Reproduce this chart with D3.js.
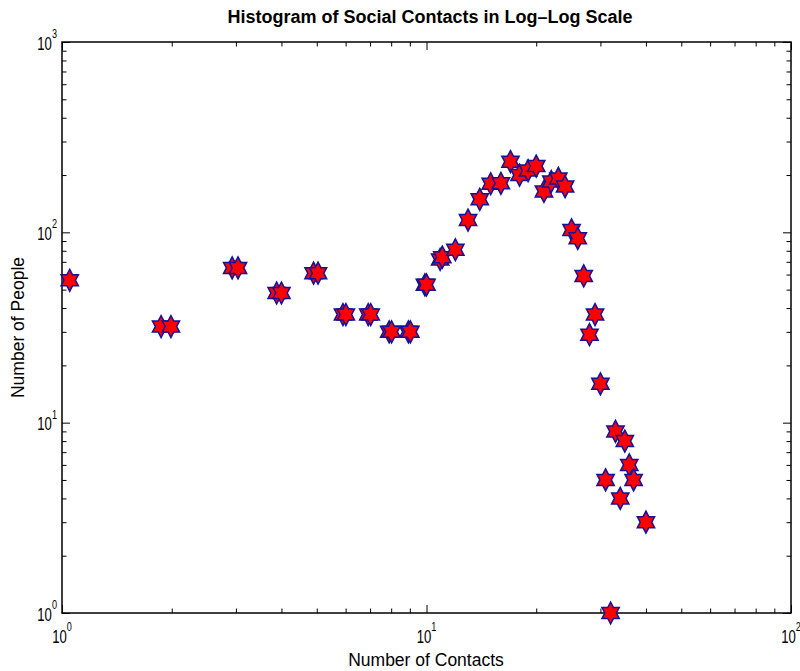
<!DOCTYPE html>
<html>
<head>
<meta charset="utf-8">
<script src="https://cdn.jsdelivr.net/npm/d3@7"></script>
<style>
  body { margin: 0; background: #fff; }
  text { font-family: "Liberation Sans", Arial, Helvetica, sans-serif; fill: #000; }
</style>
</head>
<body>
<script>
// number of contacts (x) and number of people (y)
const contacts = [1.05, 1.87, 1.99, 2.93, 3.04, 3.88, 4.0, 4.9, 5.04, 5.9, 6.01, 6.92, 7.03,
                  7.9, 8.02, 8.92, 9.03, 9.9, 10.0, 10.9, 11.05, 12, 13, 14, 15, 16, 17, 18,
                  19, 20, 21, 22, 23, 24, 25, 26, 27, 28, 29, 30, 31, 32, 33, 34, 35, 36, 37, 40];
const people = [56, 32, 32, 65, 65, 48, 48, 61, 61, 37, 37, 37, 37,
                30, 30, 30, 30, 53, 53, 72, 74, 81, 116, 149, 180, 181, 235, 200,
                211, 223, 164, 185, 192, 174, 103, 93, 59, 29, 37, 16, 5, 1, 9, 4, 8, 6, 5, 3];

const xDecades = [0, 1, 2];
const yDecades = [0, 1, 2, 3];

const titleText = 'Histogram of Social Contacts in Log\u2013Log Scale';
const xLabel = 'Number of Contacts';
const yLabel = 'Number of People';

window.onload = () => {
    const width = 800;
    const height = 671;
    const plot = { left: 62, right: 791, top: 42, bottom: 613 };

    const svg = d3.select('body')
                  .append('svg')
                  .attr('width', width)
                  .attr('height', height);

    const x = d3.scaleLog().domain([1, 100]).range([plot.left, plot.right]);
    const y = d3.scaleLog().domain([1, 1000]).range([plot.bottom, plot.top]);

    const minorX = d3.range(1, 3).flatMap(e => d3.range(2, 10).map(m => m * Math.pow(10, e - 1)));
    const minorY = d3.range(1, 4).flatMap(e => d3.range(2, 10).map(m => m * Math.pow(10, e - 1)));
    const majorX = xDecades.map(e => Math.pow(10, e));
    const majorY = yDecades.map(e => Math.pow(10, e));

    const pw = plot.right - plot.left;
    const ph = plot.bottom - plot.top;

    // ticks, pointing inward on all four sides
    const tickSets = [
        [d3.axisBottom(x), `translate(0,${plot.bottom})`, minorX, majorX, -1],
        [d3.axisTop(x), `translate(0,${plot.top})`, minorX, majorX, -1],
        [d3.axisLeft(y), `translate(${plot.left},0)`, minorY, majorY, -1],
        [d3.axisRight(y), `translate(${plot.right},0)`, minorY, majorY, -1]
    ];
    tickSets.forEach(([axis, tr, minor, major]) => {
        [[minor, 4.5], [major, 8]].forEach(([vals, len]) => {
            const g = svg.append('g')
                .attr('transform', tr)
                .call(axis.tickValues(vals).tickSize(-len).tickFormat(''));
            g.select('.domain').remove();
            g.selectAll('line').attr('stroke', '#000').attr('stroke-width', 1);
        });
    });

    // box
    svg.append('rect')
        .attr('x', plot.left)
        .attr('y', plot.top)
        .attr('width', pw)
        .attr('height', ph)
        .attr('fill', 'none')
        .attr('stroke', '#000')
        .attr('stroke-width', 1.5);

    // tick labels 10^n, squeezed horizontally like the original
    const powerLabel = (px, py, e, anchor) => {
        const t = svg.append('text')
            .attr('transform', `translate(${px},${py}) scale(0.73,1)`)
            .attr('text-anchor', anchor)
            .style('font-size', '18px');
        t.append('tspan').text('10');
        t.append('tspan')
            .attr('dy', -11.5)
            .style('font-size', '12.5px')
            .text(e);
    };

    xDecades.forEach(e => powerLabel(x(Math.pow(10, e)), plot.bottom + 29.5, e, 'middle'));
    yDecades.forEach(e => powerLabel(plot.left - 5, y(Math.pow(10, e)) + 7.5, e, 'end'));

    // hexagram marker
    const R = 10;
    const stretch = 1.1;
    const starPts = d3.range(12).map(i => {
        const a = -Math.PI / 2 + i * Math.PI / 6;
        const r = i % 2 === 0 ? R : R / Math.sqrt(3);
        return [r * Math.cos(a), r * Math.sin(a) * stretch];
    });
    const starPath = 'M' + starPts.map(p => p.join(',')).join('L') + 'Z';

    const pts = contacts.map((c, i) => ({ c: c, p: people[i] }));

    svg.append('g')
        .selectAll('path')
        .data(pts)
        .enter()
        .append('path')
        .attr('d', starPath)
        .attr('transform', d => `translate(${x(d.c)},${y(d.p)})`)
        .attr('fill', '#ff0000')
        .attr('stroke', '#12129a')
        .attr('stroke-width', 1.5)
        .attr('stroke-linejoin', 'miter');

    // title and axis labels
    svg.append('text')
        .attr('x', 430)
        .attr('y', 22.5)
        .attr('text-anchor', 'middle')
        .style('font-size', '18px')
        .style('font-weight', 'bold')
        .text(titleText);

    svg.append('text')
        .attr('x', 426)
        .attr('y', 666)
        .attr('text-anchor', 'middle')
        .style('font-size', '17.5px')
        .text(xLabel);

    svg.append('text')
        .attr('transform', `translate(24,${(plot.top + plot.bottom) / 2}) rotate(-90)`)
        .attr('text-anchor', 'middle')
        .style('font-size', '17.5px')
        .text(yLabel);
};
</script>
</body>
</html>
